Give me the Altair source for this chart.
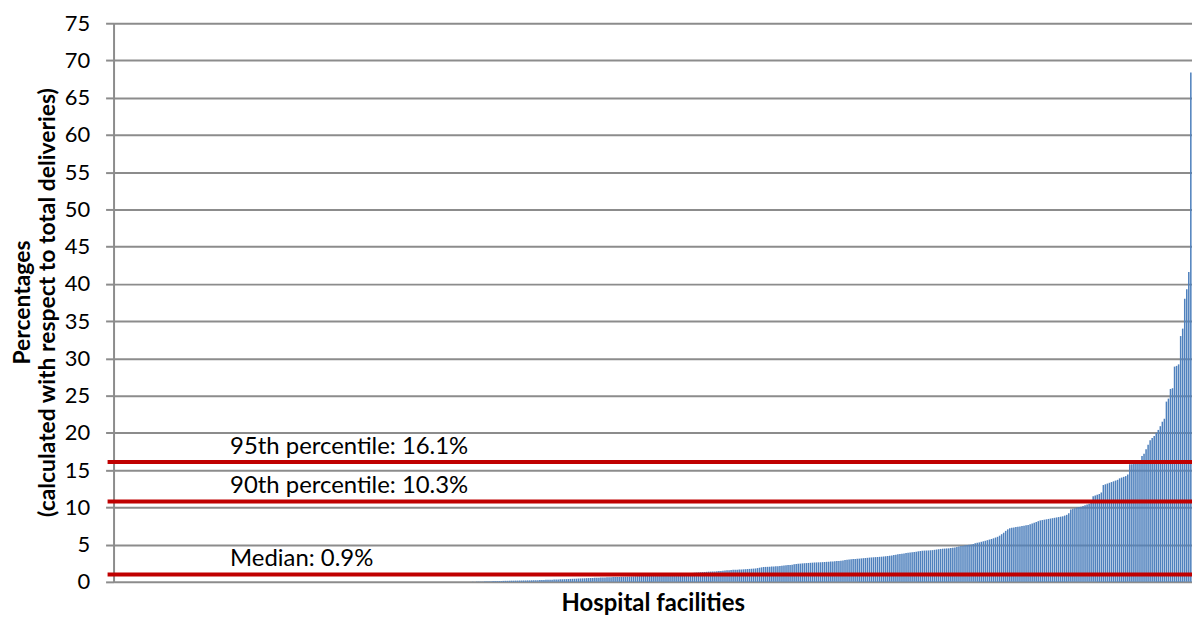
import altair as alt
import pandas as pd

# ---- data (sorted facility percentages) ----
n_zero_facilities = 176

low_values = [
    0.02, 0.03, 0.04, 0.05, 0.05, 0.06, 0.07, 0.08, 0.08, 0.09,
    0.10, 0.10, 0.11, 0.12, 0.12, 0.13, 0.14, 0.14, 0.15, 0.16,
    0.16, 0.17, 0.17, 0.18, 0.18, 0.19, 0.19, 0.20, 0.20, 0.21,
    0.21, 0.22, 0.23, 0.24, 0.25, 0.26, 0.27, 0.28, 0.29, 0.30,
    0.31, 0.32, 0.33, 0.34, 0.35, 0.36, 0.37, 0.38, 0.40, 0.41,
    0.42, 0.43, 0.45, 0.46, 0.47, 0.48, 0.50, 0.51, 0.52, 0.53,
    0.54, 0.55, 0.56, 0.58, 0.59, 0.60, 0.61, 0.62, 0.63, 0.64,
    0.65, 0.66, 0.67, 0.68, 0.69, 0.70, 0.71, 0.72, 0.73, 0.74,
    0.76, 0.77, 0.78, 0.79, 0.80, 0.82, 0.84, 0.86, 0.88, 0.90,
    0.91, 0.93, 0.94, 0.95, 0.97, 0.98, 1.00, 1.01, 1.02, 1.03,
    1.04, 1.06, 1.07, 1.08, 1.09, 1.10, 1.13, 1.17, 1.20, 1.23,
    1.25, 1.27, 1.29, 1.31, 1.33, 1.35, 1.37, 1.38, 1.39, 1.40,
]

mid_values = [
    1.42, 1.45, 1.47, 1.50, 1.52, 1.55, 1.57, 1.60, 1.61, 1.62,
    1.63, 1.65, 1.66, 1.68, 1.70, 1.72, 1.74, 1.76, 1.78, 1.80,
    1.85, 1.90, 1.95, 2.00, 2.01, 2.02, 2.03, 2.05, 2.07, 2.09,
    2.10, 2.13, 2.16, 2.19, 2.22, 2.25, 2.28, 2.31, 2.35, 2.40,
    2.42, 2.45, 2.48, 2.50, 2.52, 2.54, 2.56, 2.58, 2.60, 2.61,
    2.62, 2.63, 2.65, 2.67, 2.69, 2.70, 2.72, 2.74, 2.76, 2.79,
    2.80, 2.84, 2.88, 2.92, 2.96, 3.00, 3.03, 3.06, 3.08, 3.10,
    3.12, 3.15, 3.18, 3.20, 3.23, 3.26, 3.28, 3.30, 3.32, 3.34,
    3.36, 3.38, 3.41, 3.44, 3.47, 3.50, 3.55, 3.60, 3.65, 3.70,
    3.74, 3.78, 3.82, 3.86, 3.90, 3.94, 3.98, 4.02, 4.06, 4.10,
    4.14, 4.18, 4.20, 4.21, 4.22, 4.24, 4.26, 4.30, 4.34, 4.38,
    4.42, 4.45, 4.47, 4.49, 4.50, 4.53, 4.58, 4.63, 4.68, 4.75,
    4.80, 4.85, 4.90, 4.94, 4.98, 5.03, 5.10, 5.18, 5.25, 5.30,
    5.38, 5.45, 5.52, 5.60, 5.68, 5.76, 5.85, 5.95, 6.05, 6.20,
    6.40, 6.60, 6.85, 7.05, 7.20, 7.25, 7.30, 7.35, 7.40, 7.45,
    7.50, 7.55, 7.60, 7.65, 7.75, 7.85, 7.95, 8.05, 8.15, 8.25,
]

high_values = [
    8.30, 8.35, 8.40, 8.45, 8.50, 8.55, 8.60, 8.65, 8.70, 8.75,
    8.80, 8.90, 9.00, 9.20, 9.70, 9.80, 9.90, 10.00, 10.05, 10.10,
    10.20, 10.30, 10.40, 10.50, 10.90, 11.50, 11.60, 11.70, 11.80, 12.00,
    13.00, 13.10, 13.20, 13.30, 13.40, 13.50, 13.60, 13.70, 13.90, 14.00,
    14.10, 14.20, 14.40, 15.80, 15.80, 15.90, 15.90, 16.00, 16.10, 16.90,
    17.20, 17.80, 18.40, 19.00, 19.30, 19.60, 20.00, 20.40, 20.90, 21.50,
    21.90, 24.20, 24.60, 25.90, 26.00, 28.90, 29.00, 29.20, 33.00, 34.00,
    38.00, 39.30, 41.60, 68.40,
]

percentages = [0.0] * n_zero_facilities + low_values + mid_values + high_values

line_values = [16.1, 10.8, 1.0]
line_labels = ["95th percentile: 16.1%", "90th percentile: 10.3%", "Median: 0.9%"]
y_ticks = [0, 5, 10, 15, 20, 25, 30, 35, 40, 45, 50, 55, 60, 65, 70, 75]
y_title = ["Percentages", "(calculated with respect to total deliveries)"]
x_title = "Hospital facilities"

bars_df = pd.DataFrame({"facility": list(range(1, len(percentages) + 1)), "pct": percentages})
lines_df = pd.DataFrame({"pct": line_values, "label": line_labels})

W, H = 1083, 561
GRID = "#8c8c8c"
y_scale = alt.Scale(domain=[0, 75], nice=False, zero=True)

y_axis = alt.Axis(
    values=y_ticks, grid=True, gridColor=GRID, gridWidth=2, gridOpacity=1,
    domainColor=GRID, domainWidth=2, tickColor=GRID, tickWidth=2, tickSize=8,
    labelFontSize=22, labelColor="black", labelPadding=16,
    title=y_title, titleFontSize=23, titleFontWeight="bold", titleColor="black",
    titleAngle=270, titleBaseline="top", titleAlign="center",
    titleX=-102, titleY=280, titleLineHeight=25,
)

bars = alt.Chart(bars_df).mark_bar(color="#4f81bd").encode(
    x=alt.X(
        "facility:O",
        sort=None,
        scale=alt.Scale(paddingInner=0.25, paddingOuter=0.2),
        axis=alt.Axis(
            title=x_title, labels=False, ticks=False, domain=False,
            titleFontSize=24, titleFontWeight="bold", titleColor="black",
            titlePadding=10,
        ),
    ),
    y=alt.Y("pct:Q", scale=y_scale, axis=y_axis),
)

rules = alt.Chart(lines_df).mark_rule(color="#c00000", strokeWidth=4).encode(
    y=alt.Y("pct:Q", scale=y_scale, axis=y_axis),
    x=alt.value(-6),
    x2=alt.value(W),
)

texts = alt.Chart(lines_df).mark_text(
    align="left", baseline="alphabetic", dy=-8, fontSize=24, color="black"
).encode(
    y=alt.Y("pct:Q", scale=y_scale, axis=y_axis),
    x=alt.value(117),
    text="label:N",
)

chart = (
    alt.layer(bars, rules, texts)
    .properties(
        width=W, height=H, autosize="none",
        padding={"left": 106, "top": 14, "right": 0, "bottom": 36},
    )
    .configure(font="Lato")
    .configure_view(strokeWidth=0)
)

chart.save("out.html", embed_options={"renderer": "svg", "actions": False})
